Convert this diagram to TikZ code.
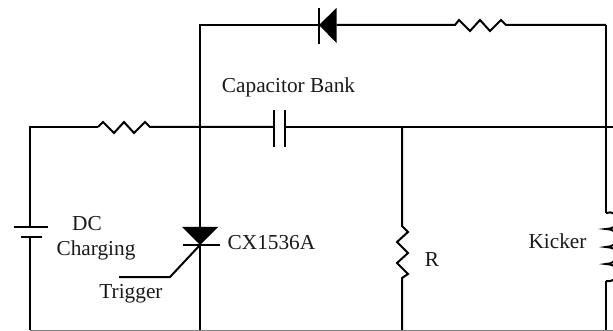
\documentclass[tikz,border=0pt]{standalone}
\usepackage{fontspec}
\setmainfont{Liberation Serif}
\tikzset{
  wire/.style={line width=2pt,line join=miter},
  lbl/.style={inner sep=0pt,font=\fontsize{21.3}{24}\selectfont,text=black!90},
}
\begin{document}
\begin{tikzpicture}[x=1pt,y=-1pt]
\useasboundingbox (0,0) rectangle (613,331);
\clip (0,0) rectangle (613,331);
% junction and terminal coordinates
\coordinate (bl) at (30,330);
\coordinate (tl) at (30,127);
\coordinate (batT) at (30,227);
\coordinate (batB) at (30,237);
\coordinate (r1a) at (98,127);
\coordinate (r1b) at (150,127);
\coordinate (jA) at (200,127);
\coordinate (capL) at (274,127);
\coordinate (capR) at (285,127);
\coordinate (jB) at (402,127);
\coordinate (jC) at (606,127);
\coordinate (topL) at (200,25);
\coordinate (topR) at (606,25);
\coordinate (dK) at (319,25);
\coordinate (dA) at (336.5,25);
\coordinate (r2a) at (455,25);
\coordinate (r2b) at (506,25);
\coordinate (thyA) at (200,227);
\coordinate (thyK) at (200,245);
\coordinate (gBend) at (170,277);
\coordinate (gEnd) at (119,277);
\coordinate (rT) at (402,226);
\coordinate (rB) at (402,278);
\coordinate (kT) at (606,213);
\coordinate (kB) at (606,281);
% bottom edge
\draw[line width=0.8pt,gray] (bl) -- (613,330);
% left loop
\draw[wire] (bl) -- (batB);
\draw[wire] (batT) -- (tl) -- (r1a);
\draw[wire] (14,227) -- (48,227);
\draw[wire] (21,237) -- (42,237);
\draw[wire] (r1a) -- (103,122) -- (114,133) -- (124,122) -- (134,133) -- (145,122) -- (r1b) -- (jA) -- (capL);
% capacitor
\draw[wire] (274,110) -- (274,147);
\draw[wire] (285,110) -- (285,147);
\draw[wire] (capR) -- (613,127);
% top loop
\draw[wire] (bl -| thyK) -- (thyK);
\draw[wire] (thyA) -- (topL) -- (dK);
\draw[wire] (dA) -- (r2a) -- (459,20) -- (470,31) -- (480,20) -- (490,31) -- (501,20) -- (r2b) -- (topR);
\draw[wire] (319,8) -- (319,44);
\fill (dK) -- (336.5,8) -- (336.5,43) -- cycle;
% thyristor
\fill (182,227) -- (218,227) -- (thyK) -- cycle;
\draw[wire] (183,245) -- (220,245);
\draw[wire] (thyK) -- (gBend) -- (gEnd);
% resistor R
\draw[wire] (jB) -- (rT) -- (408,232) -- (397,242) -- (408,253) -- (397,263) -- (408,274) -- (rB) -- (bl -| rB);
% kicker
\draw[wire] (topR) -- (kT);
\draw[wire] (kT) .. controls (612,211) and (618,214) .. (618,221) .. controls (618,226) and (612,229) .. (606,229)
  .. controls (612,229) and (618,232) .. (618,238) .. controls (618,243) and (612,247) .. (606,247)
  .. controls (612,247) and (618,250) .. (618,255) .. controls (618,260) and (612,264) .. (606,264)
  .. controls (612,264) and (618,267) .. (618,272) .. controls (618,279) and (612,282) .. (kB);
\draw[wire] (kB) -- (bl -| kB);
% labels
\node[lbl] (lcap) at (288.5,87.5) {Capacitor Bank};
\node[lbl] (ldc) at (87,224) {DC};
\node[lbl] (lchg) at (96,250) {Charging};
\node[lbl] (ltrig) at (131,294) {Trigger};
\node[lbl,anchor=west] (lcx) at (227.5,242.5) {CX1536A};
\node[lbl] (lr) at (432,259.5) {R};
\node[lbl] (lk) at (557.5,241.5) {Kicker};
\end{tikzpicture}
\end{document}
